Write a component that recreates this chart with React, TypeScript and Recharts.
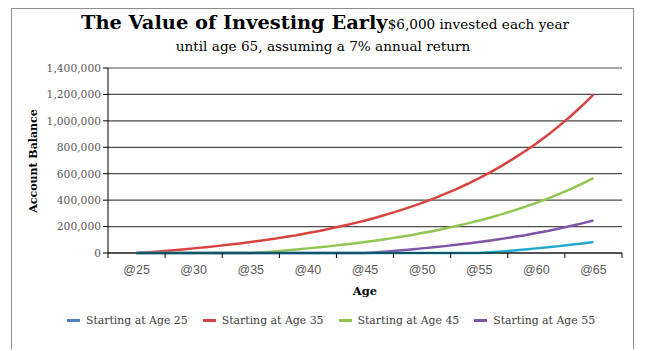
import { LineChart, Line, XAxis, YAxis, CartesianGrid } from 'recharts';

const ages = [
  25, 26, 27, 28, 29, 30, 31, 32, 33, 34, 35, 36, 37, 38, 39, 40, 41, 42, 43, 44, 45,
  46, 47, 48, 49, 50, 51, 52, 53, 54, 55, 56, 57, 58, 59, 60, 61, 62, 63, 64, 65,
];

// red curve (legend says "Starting at Age 35")
const age35 = [
  0, 6000, 12000, 19000, 27000, 35000, 43000, 52000, 62000, 72000, 83000, 95000, 107000,
  121000, 135000, 151000, 167000, 185000, 204000, 224000, 246000, 269000, 294000, 321000,
  349000, 379000, 412000, 447000, 484000, 524000, 567000, 612000, 661000, 714000, 770000,
  829000, 893000, 962000, 1035000, 1114000, 1198000,
];
// green curve
const age45 = [
  0, 0, 0, 0, 0, 0, 0, 0, 0, 0, 0, 6000, 12000, 19000, 27000, 35000, 43000, 52000, 62000,
  72000, 83000, 95000, 107000, 121000, 135000, 151000, 167000, 185000, 204000, 224000,
  246000, 269000, 294000, 321000, 349000, 379000, 412000, 447000, 484000, 524000, 567000,
];
// purple curve
const age55 = [
  0, 0, 0, 0, 0, 0, 0, 0, 0, 0, 0, 0, 0, 0, 0, 0, 0, 0, 0, 0, 0, 6000, 12000, 19000, 27000,
  35000, 43000, 52000, 62000, 72000, 83000, 95000, 107000, 121000, 135000, 151000, 167000,
  185000, 204000, 224000, 246000,
];
// cyan curve
const age25 = [
  0, 0, 0, 0, 0, 0, 0, 0, 0, 0, 0, 0, 0, 0, 0, 0, 0, 0, 0, 0, 0, 0, 0, 0, 0, 0, 0, 0, 0, 0,
  0, 6000, 12000, 19000, 27000, 35000, 43000, 52000, 62000, 72000, 83000,
];

const yTicks = [0, 200000, 400000, 600000, 800000, 1000000, 1200000, 1400000];
const xLabelAges = [25, 30, 35, 40, 45, 50, 55, 60, 65];
const xMarkAges = [22.5, 27.5, 32.5, 37.5, 42.5, 47.5, 52.5, 57.5, 62.5, 67.5];

const legendItems = [
  { label: 'Starting at Age 25', color: '#4f81bd' },
  { label: 'Starting at Age 35', color: '#d9433f' },
  { label: 'Starting at Age 45', color: '#8fc750' },
  { label: 'Starting at Age 55', color: '#7f55a8' },
];

const data = ages.map((age, i) => ({
  age,
  s25: age25[i],
  s35: age35[i],
  s45: age45[i],
  s55: age55[i],
}));

const serif = '"DejaVu Serif", "Liberation Serif", serif';
const sans = '"Liberation Sans", Arial, sans-serif';

const XTick = (props: any) => {
  const { x, y, payload } = props;
  const v = payload.value;
  if (xMarkAges.includes(v)) {
    return <line x1={x} x2={x} y1={y} y2={y + 5} stroke="#000" strokeWidth={1} />;
  }
  return (
    <text x={x} y={y + 21} textAnchor="middle" fontSize={12.5} fontFamily={sans} fill="#595959">
      @{v}
    </text>
  );
};

const App = () => {
  return (
    <div style={{ position: 'absolute', left: 0, top: 0, width: 646, height: 351, background: '#fff' }}>
      <div
        style={{
          position: 'absolute',
          left: 11,
          top: 8,
          width: 621,
          height: 340,
          borderLeft: '1px solid #8c8c8c',
          borderTop: '1px solid #8c8c8c',
          borderRight: '1px solid #8c8c8c',
        }}
      />
      <LineChart
        width={646}
        height={351}
        data={data}
        margin={{ top: 68, right: 24, bottom: 68, left: 48 }}
      >
        <CartesianGrid vertical={false} stroke="#4d4d4d" strokeWidth={1.2} />
        <XAxis
          dataKey="age"
          type="number"
          domain={[22.5, 67.5]}
          ticks={[...xMarkAges, ...xLabelAges].sort((a, b) => a - b)}
          interval={0}
          tick={<XTick />}
          tickLine={false}
          tickSize={0}
          tickMargin={0}
          height={30}
          axisLine={{ stroke: '#000' }}
        />
        <YAxis
          domain={[0, 1400000]}
          ticks={yTicks}
          width={60}
          tickSize={5}
          tickMargin={2}
          tickLine={{ stroke: '#000' }}
          axisLine={{ stroke: '#000' }}
          tickFormatter={(v: number) => v.toLocaleString('en-US')}
          tick={{ fontSize: 10.7, fontFamily: serif, fill: '#595959' }}
        />
        <Line dataKey="s35" stroke="#d9433f" strokeWidth={2.5} dot={false} isAnimationActive={false} />
        <Line dataKey="s45" stroke="#8fc750" strokeWidth={2.5} dot={false} isAnimationActive={false} />
        <Line dataKey="s55" stroke="#7f55a8" strokeWidth={2.5} dot={false} isAnimationActive={false} />
        <Line dataKey="s25" stroke="#22a8cc" strokeWidth={2.5} dot={false} isAnimationActive={false} />
      </LineChart>

      <div
        style={{
          position: 'absolute',
          left: 0,
          top: 10,
          width: 646,
          textAlign: 'center',
          fontFamily: serif,
          color: '#000',
          whiteSpace: 'nowrap',
        }}
      >
        <div style={{ lineHeight: '26px', paddingLeft: 4 }}>
          <span style={{ fontSize: 19.4, fontWeight: 'bold' }}>The Value of Investing Early</span>
          <span style={{ fontSize: 13.6 }}>$6,000 invested each year</span>
        </div>
        <div style={{ fontSize: 13.6, lineHeight: '18px' }}>until age 65, assuming a 7% annual return</div>
      </div>

      <div
        style={{
          position: 'absolute',
          left: 33,
          top: 161,
          transform: 'translate(-50%, -50%) rotate(-90deg)',
          fontFamily: serif,
          fontWeight: 'bold',
          fontSize: 11,
          whiteSpace: 'nowrap',
        }}
      >
        Account Balance
      </div>
      <div
        style={{
          position: 'absolute',
          left: 365,
          top: 291,
          transform: 'translate(-50%, -50%)',
          fontFamily: serif,
          fontWeight: 'bold',
          fontSize: 11.5,
        }}
      >
        Age
      </div>

      <div
        style={{
          position: 'absolute',
          left: 0,
          top: 314,
          width: 646,
          display: 'flex',
          justifyContent: 'center',
          gap: 15,
          fontFamily: serif,
          fontSize: 10.9,
          color: '#404040',
          paddingLeft: 16,
          boxSizing: 'border-box',
        }}
      >
        {legendItems.map((it) => (
          <div key={it.label} style={{ display: 'flex', alignItems: 'center' }}>
            <span style={{ display: 'inline-block', width: 13, height: 3, background: it.color, marginRight: 6 }} />
            <span>{it.label}</span>
          </div>
        ))}
      </div>
    </div>
  );
};

export default App;
